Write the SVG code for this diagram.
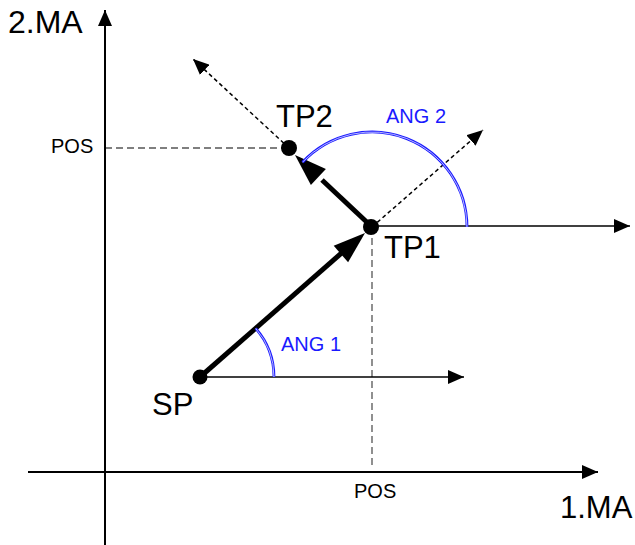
<svg xmlns="http://www.w3.org/2000/svg" width="635" height="545" viewBox="0 0 635 545">
<style>
.axis{stroke:#000;stroke-width:2;fill:none}
.thin{stroke:#000;stroke-width:1.5;fill:none}
.dash{stroke:#555;stroke-width:1.3;stroke-dasharray:7,4;fill:none}
.dot{stroke:#000;stroke-width:1.5;stroke-dasharray:4,3;fill:none}
.thick{stroke:#000;stroke-width:5;fill:none}
.arcb{stroke:#1a1aff;stroke-width:2.8;fill:none}
.arcw{stroke:#fff;stroke-width:0.7;fill:none}
.lbl{font-family:"Liberation Sans",Arial,sans-serif;fill:#000}
.blue{font-family:"Liberation Sans",Arial,sans-serif;fill:#1a1aff}
</style>
<defs>
<marker id="ah" markerUnits="userSpaceOnUse" markerWidth="16" markerHeight="14" refX="16" refY="7" orient="auto">
<path d="M0,0 L16,7 L0,14 z" fill="#000"/>
</marker>
</defs>
<rect width="635" height="545" fill="#fff"/>
<g id="connectors">
<line class="dash" x1="105" y1="148" x2="289" y2="148"/>
<line class="dash" x1="372" y1="227" x2="372" y2="466"/>
<line class="axis" x1="105" y1="545" x2="105" y2="10" marker-end="url(#ah)"/>
<line class="axis" x1="28" y1="472" x2="598" y2="472" marker-end="url(#ah)"/>
<line class="thin" x1="200" y1="377" x2="464" y2="377" marker-end="url(#ah)"/>
<line class="thin" x1="372" y1="226" x2="630" y2="226" marker-end="url(#ah)"/>
<line class="dot" x1="289" y1="148" x2="193" y2="59" marker-end="url(#ah)"/>
<line class="dot" x1="372" y1="227" x2="483" y2="130" marker-end="url(#ah)"/>
<line class="thick" x1="200" y1="377" x2="345" y2="250"/>
<polygon points="365,233 348.1,262.3 333.7,245.7" fill="#000"/>
<line class="thick" x1="372" y1="227" x2="322" y2="180"/>
<polygon points="295,155 325.9,168.9 310.9,184.9" fill="#000"/>
<path class="arcb" d="M467,227 A95,95 0 0 0 302.5,162.2"/>
<path class="arcw" d="M467,227 A95,95 0 0 0 302.5,162.2"/>
<path class="arcb" d="M274,377 A74,74 0 0 0 255.7,328.4"/>
<path class="arcw" d="M274,377 A74,74 0 0 0 255.7,328.4"/>
</g>
<g id="SP">
<circle cx="200" cy="377" r="7.5" fill="#000"/>
<text class="lbl" x="152" y="415" font-size="31">SP</text>
</g>
<g id="TP1">
<circle cx="371" cy="227" r="8" fill="#000"/>
<text class="lbl" x="384" y="258" font-size="31">TP1</text>
</g>
<g id="TP2">
<circle cx="289" cy="148" r="8" fill="#000"/>
<text class="lbl" x="276" y="127" font-size="31">TP2</text>
</g>
<g id="labels">
<text class="lbl" x="8" y="33" font-size="32">2.MA</text>
<text class="lbl" x="560" y="518" font-size="31">1.MA</text>
<text class="lbl" x="51" y="153" font-size="20">POS</text>
<text class="lbl" x="354" y="498" font-size="20">POS</text>
<text class="blue" x="281" y="351" font-size="20">ANG 1</text>
<text class="blue" x="386" y="123" font-size="20">ANG 2</text>
</g>
</svg>
